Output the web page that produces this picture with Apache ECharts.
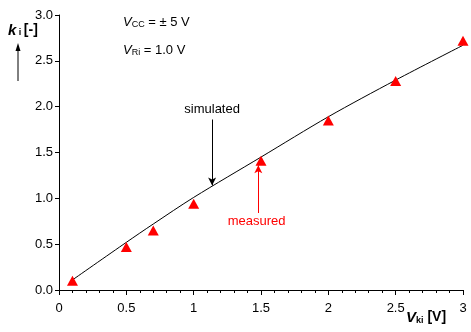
<!DOCTYPE html>
<html><head><meta charset="utf-8">
<script src="https://cdn.jsdelivr.net/npm/echarts@6/dist/echarts.min.js"></script>
<style>html,body{margin:0;padding:0;background:#fff}#c{width:471px;height:332px}</style>
</head><body><div id="c"></div>
<script>
const measuredX = [0.1, 0.5, 0.7, 1.0, 1.5, 2.0, 2.5, 3.0];
const measuredY = [0.10, 0.47, 0.65, 0.94, 1.41, 1.85, 2.28, 2.72];
const simulatedX = [0.1, 0.5, 0.7, 1.0, 1.5, 2.0, 2.5, 3.0];
const simulatedY = [0.11, 0.52, 0.72, 1.01, 1.45, 1.89, 2.29, 2.67];
const xTicks = ['0', '0.5', '1', '1.5', '2', '2.5', '3'];

const FONT = '"Liberation Sans", Arial, sans-serif';
const chart = echarts.init(document.getElementById('c'), null, {renderer: 'canvas'});
const option = {
  animation: false,
  backgroundColor: '#fff',
  grid: {left: 59, right: 8, top: 15, bottom: 42, containLabel: false},
  xAxis: {
    type: 'value', min: 0, max: 3, interval: 0.5,
    axisLine: {show: true, onZero: false, lineStyle: {color: '#000', width: 1}},
    axisTick: {show: true, inside: false, length: 5, lineStyle: {color: '#000'}},
    minorTick: {show: true, splitNumber: 5, length: 3, lineStyle: {color: '#000'}},
    splitLine: {show: false},
    axisLabel: {color: '#000', fontFamily: FONT, fontSize: 13, margin: 12,
      formatter: v => xTicks[Math.round(v / 0.5)]}
  },
  yAxis: {
    type: 'value', min: 0, max: 3, interval: 0.5,
    axisLine: {show: true, onZero: false, lineStyle: {color: '#000', width: 1}},
    axisTick: {show: true, inside: false, length: 4, lineStyle: {color: '#000'}},
    splitLine: {show: false},
    axisLabel: {color: '#000', fontFamily: FONT, fontSize: 13, margin: 6,
      formatter: v => v.toFixed(1)}
  },
  series: [
    {
      type: 'line', name: 'simulated', smooth: 0.3, showSymbol: false, symbol: 'none',
      lineStyle: {color: '#000', width: 1},
      data: simulatedX.map((x, i) => [x, simulatedY[i]]),
      z: 2,
      markLine: {
        silent: true, symbol: ['none', 'arrow'], symbolSize: [6, 8],
        label: {show: false},
        lineStyle: {color: '#000', width: 1, type: 'solid'},
        data: [[{coord: [1.137, 1.86]}, {coord: [1.137, 1.14]}]]
      }
    },
    {
      type: 'scatter', name: 'measured', symbol: 'triangle', symbolSize: [11, 10],
      itemStyle: {color: '#ff0000', opacity: 1},
      data: measuredX.map((x, i) => [x, measuredY[i]]),
      z: 3,
      markLine: {
        silent: true, symbol: ['none', 'arrow'], symbolSize: [6, 8],
        label: {show: false},
        lineStyle: {color: '#ff0000', width: 1, type: 'solid'},
        data: [[{coord: [1.48, 0.84]}, {coord: [1.48, 1.36]}]]
      }
    }
  ]
};
chart.setOption(option);

const p = (x, y) => chart.convertToPixel({gridIndex: 0}, [x, y]);
const rich = {
  vi: {fontFamily: FONT, fontSize: 13, fontStyle: 'italic', fill: '#000'},
  sub: {fontFamily: FONT, fontSize: 9, fill: '#000', padding: [5, 0, 0, 0]},
  n: {fontFamily: FONT, fontSize: 13, fill: '#000'}
};
const sim = p(1.137, 1.975), meas = p(1.467, 0.75);
chart.setOption({
  graphic: [
    {type: 'text', left: 123, top: 16, style: {
      text: '{vi|V}{sub|CC}{n| = ± 5 V}', rich: rich}},
    {type: 'text', left: 123, top: 44, style: {
      text: '{vi|V}{sub|Ri}{n| = 1.0 V}', rich: rich}},
    {type: 'text', x: sim[0], y: sim[1], style: {
      text: 'simulated', font: '13px ' + FONT, fill: '#000', align: 'center', verticalAlign: 'middle'}},
    {type: 'text', x: meas[0], y: meas[1], style: {
      text: 'measured', font: '13px ' + FONT, fill: '#ff0000', align: 'center', verticalAlign: 'middle'}},
    {type: 'text', left: 8, top: 23, style: {
      text: '{k|k}{s| i }{b|[-]}',
      rich: {
        k: {fontFamily: FONT, fontSize: 15, fontWeight: 'bold', fontStyle: 'italic', fill: '#000'},
        s: {fontFamily: FONT, fontSize: 9, fontWeight: 'bold', fill: '#000', padding: [5, 0, 0, 0]},
        b: {fontFamily: FONT, fontSize: 14, fontWeight: 'bold', fill: '#000'}
      }}},
    {type: 'line', shape: {x1: 18, y1: 81, x2: 18, y2: 48}, style: {stroke: '#000', lineWidth: 1}},
    {type: 'polygon', shape: {points: [[18, 43], [15.5, 51], [20.5, 51]]}, style: {fill: '#000'}},
    {type: 'text', left: 406, top: 310, style: {
      text: '{v|V}{s|ki}{b| [V]}',
      rich: {
        v: {fontFamily: FONT, fontSize: 15, fontWeight: 'bold', fontStyle: 'italic', fill: '#000'},
        s: {fontFamily: FONT, fontSize: 9, fontWeight: 'bold', fill: '#000', padding: [6, 0, 0, 0]},
        b: {fontFamily: FONT, fontSize: 14, fontWeight: 'bold', fill: '#000'}
      }}}
  ]
});
</script></body></html>
